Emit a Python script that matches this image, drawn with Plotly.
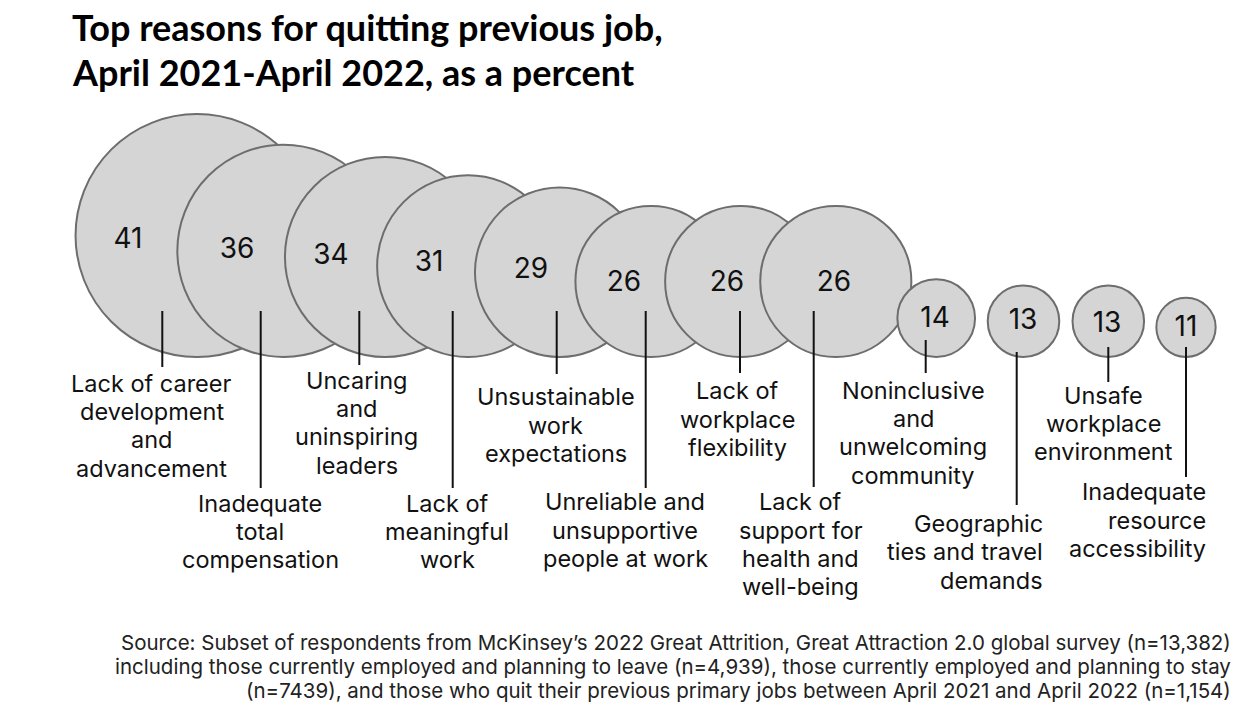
import plotly.graph_objects as go

# ---------------- data ----------------
reasons = [
    "Lack of career<br>development<br>and<br>advancement",
    "Inadequate<br>total<br>compensation",
    "Uncaring<br>and<br>uninspiring<br>leaders",
    "Lack of<br>meaningful<br>work",
    "Unsustainable<br>work<br>expectations",
    "Unreliable and<br>unsupportive<br>people at work",
    "Lack of<br>workplace<br>flexibility",
    "Lack of<br>support for<br>health and<br>well-being",
    "Noninclusive<br>and<br>unwelcoming<br>community",
    "Geographic<br>ties and travel<br>demands",
    "Unsafe<br>workplace<br>environment",
    "Inadequate<br>resource<br>accessibility",
]
values = [41, 36, 34, 31, 29, 26, 26, 26, 14, 13, 13, 11]

title_lines = ["Top reasons for quitting previous job,", "April 2021-April 2022, as a percent"]
source_lines = [
    "Source: Subset of respondents from McKinsey\u2019s 2022 Great Attrition, Great Attraction 2.0 global survey (n=13,382)",
    "including those currently employed and planning to leave (n=4,939), those currently employed and planning to stay",
    "(n=7439), and those who quit their previous primary jobs between April 2021 and April 2022 (n=1,154)",
]

# ---------------- layout (pixel space) ----------------
W, H = 1237, 707
CENTER_X = [197, 283.5, 385, 468, 559.7, 651, 740.7, 835.8, 936.2, 1023.5, 1108.3, 1186]
BASE_Y = 358              # bottom edge of all circles
NUM_X = [128, 237, 331, 429, 531, 624, 727, 834, 935, 1023, 1107, 1186]
NUM_DY = [5.5, 0, 0, -2.5, -1, 3, 3, 3, 1.5, 1, 4, 1.5]
LINE_X = [162.3, 260.7, 359.3, 452.7, 556.7, 645.7, 740, 813.7, 925.7, 1016.7, 1108.3, 1186]
LINE_TOP = [311, 311, 311, 311, 311, 311, 311, 311, 340, 352, 347, 347]
LINE_BOT = [367, 488, 365, 488, 374, 488, 373, 487, 373, 505, 382, 477]
LABEL_X = [151.7, 260, 356.7, 447, 555.7, 625, 737.3, 800.7, 913.3, 1045, 1103.3, 1208.3]
LABEL_ALIGN = ["center"] * 9 + ["right", "center", "right"]
LABEL_Y0 = [383, 503, 380, 503, 396.7, 501.7, 390.7, 501.7, 390, 523.3, 395, 491.7]
LINE_STEP = 28.4

SIZE_K, SIZE_B = 6.12, -6.0   # outer diameter (px) = k*value + b
STROKE = 2

FONT = "Inter"
FILL = "#d5d5d5"
EDGE = "#6d6d6d"
INK = "#111111"

outer_d = [SIZE_K * v + SIZE_B for v in values]
marker_size = [d - STROKE for d in outer_d]
center_y = [BASE_Y - d / 2 for d in outer_d]

fig = go.Figure()

# circles (later ones drawn over earlier ones)
fig.add_trace(go.Scatter(
    x=CENTER_X, y=center_y, mode="markers",
    marker=dict(size=marker_size, color=FILL, opacity=1,
                line=dict(color=EDGE, width=STROKE)),
    hoverinfo="skip", showlegend=False,
))

# leader lines
lx, ly = [], []
for x, t, b in zip(LINE_X, LINE_TOP, LINE_BOT):
    lx += [x, x, None]
    ly += [t, b, None]
fig.add_trace(go.Scatter(x=lx, y=ly, mode="lines",
                         line=dict(color=INK, width=2),
                         hoverinfo="skip", showlegend=False))

# value numbers
fig.add_trace(go.Scatter(
    x=NUM_X, y=[cy + dy for cy, dy in zip(center_y, NUM_DY)],
    mode="text", text=[str(v) for v in values],
    textposition="middle center",
    textfont=dict(family=FONT, size=28, color=INK),
    hoverinfo="skip", showlegend=False,
))

annotations = []
# category labels, one annotation per text line
for lab, x, al, y0 in zip(reasons, LABEL_X, LABEL_ALIGN, LABEL_Y0):
    for i, line in enumerate(lab.split("<br>")):
        annotations.append(dict(
            x=x, y=y0 + i * LINE_STEP, xref="x", yref="y",
            text=line, showarrow=False,
            xanchor=al, yanchor="middle", align=al,
            font=dict(family=FONT, size=23.5, color=INK),
        ))

# title
for i, line in enumerate(title_lines):
    annotations.append(dict(
        x=70, y=27 + i * 45, xref="x", yref="y", text=line, showarrow=False,
        xanchor="left", yanchor="middle",
        font=dict(family="Lato", size=36, color="#000000", weight=700),
    ))

# source
for i, line in enumerate(source_lines):
    annotations.append(dict(
        x=1233, y=642 + i * 24, xref="x", yref="y", text=line, showarrow=False,
        xanchor="right", yanchor="middle",
        font=dict(family=FONT, size=20.5, color="#222222"),
    ))

fig.update_layout(
    width=W, height=H,
    margin=dict(l=0, r=0, t=0, b=0),
    paper_bgcolor="white", plot_bgcolor="white",
    xaxis=dict(range=[0, W], visible=False, fixedrange=True),
    yaxis=dict(range=[H, 0], visible=False, fixedrange=True),
    annotations=annotations,
    showlegend=False,
)

fig.write_html(
    "out.html",
    config={"displayModeBar": False},
    post_script="document.body.style.margin='0px';document.body.style.overflow='hidden';",
)
